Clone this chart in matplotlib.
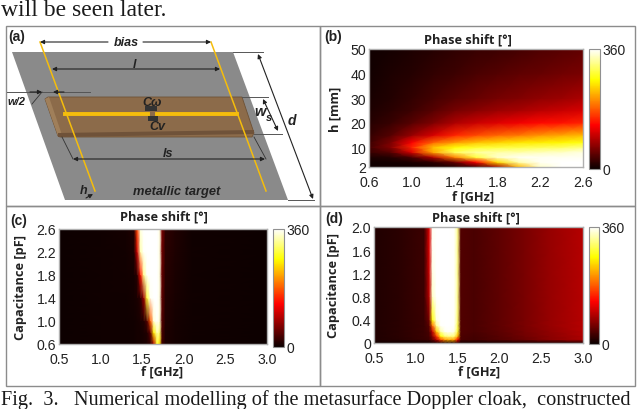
import numpy as np
import matplotlib
matplotlib.use("Agg")
import matplotlib.pyplot as plt
from matplotlib.patches import Polygon, Rectangle

plt.rcParams["font.family"] = ["Liberation Sans", "DejaVu Sans"]

W, H = 640, 410

# panel (b): phase shift vs frequency and height
b_f = [0.6, 0.8, 1.0, 1.2, 1.4, 1.6, 1.8, 2.0, 2.2, 2.4, 2.6]
b_h = [2, 4, 6, 8, 10, 12, 15, 20, 25, 30, 40, 50]
b_phase = [
    [3, 3, 4, 6, 10, 25, 80, 230, 340, 358, 360],
    [5, 6, 10, 20, 50, 130, 250, 330, 355, 360, 360],
    [10, 15, 35, 90, 200, 290, 340, 355, 355, 355, 355],
    [25, 40, 110, 220, 300, 325, 330, 330, 335, 340, 350],
    [30, 65, 150, 235, 270, 285, 290, 295, 300, 305, 315],
    [28, 60, 130, 185, 215, 235, 245, 255, 260, 265, 275],
    [22, 40, 75, 110, 150, 170, 185, 195, 210, 220, 230],
    [15, 25, 42, 62, 88, 103, 115, 125, 135, 140, 150],
    [10, 18, 28, 42, 58, 68, 78, 85, 95, 102, 110],
    [8, 14, 22, 32, 42, 50, 58, 64, 72, 78, 86],
    [5, 10, 15, 22, 28, 34, 40, 45, 50, 55, 60],
    [3, 7, 11, 15, 20, 24, 28, 32, 37, 42, 47],
]

# panel (c): phase shift vs frequency and capacitance
c_f = [0.5, 1.0, 1.3, 1.40, 1.44, 1.48, 1.52, 1.56, 1.60, 1.64, 1.68, 1.71, 1.74, 1.78, 1.9, 2.1, 3.0]
c_cap = [0.6, 0.8, 1.0, 1.4, 1.8, 2.2, 2.6]
c_phase = [
    [2, 3, 4, 5, 6, 7, 8, 10, 20, 90, 280, 250, 30, 10, 6, 4, 2],
    [2, 3, 4, 5, 6, 7, 9, 14, 50, 260, 330, 310, 35, 11, 6, 4, 2],
    [2, 3, 4, 5, 7, 9, 14, 40, 180, 345, 358, 345, 40, 12, 7, 4, 2],
    [2, 3, 4, 6, 9, 18, 80, 290, 355, 360, 360, 350, 45, 14, 8, 4, 2],
    [2, 3, 5, 7, 18, 140, 320, 358, 360, 360, 360, 350, 50, 16, 9, 4, 2],
    [2, 3, 5, 9, 100, 330, 358, 360, 360, 360, 360, 350, 55, 18, 10, 4, 2],
    [2, 3, 6, 12, 170, 350, 360, 360, 360, 360, 360, 350, 60, 20, 12, 4, 2],
]

# panel (d): phase shift vs frequency and capacitance
d_f = [0.5, 0.8, 1.1, 1.16, 1.2, 1.25, 1.3, 1.35, 1.4, 1.46, 1.5, 1.54, 1.7, 2.0, 2.3, 2.6, 3.0]
d_cap = [0, 0.06, 0.12, 0.2, 0.3, 0.4, 0.8, 1.2, 1.6, 2.0]
d_phase = [
    [3, 3, 4, 4, 4, 5, 6, 8, 8, 8, 6, 5, 5, 6, 8, 8, 10],
    [12, 16, 24, 28, 45, 90, 170, 215, 225, 215, 140, 34, 30, 40, 52, 68, 85],
    [12, 17, 26, 32, 70, 160, 270, 310, 320, 310, 230, 36, 32, 42, 55, 70, 88],
    [12, 18, 26, 35, 100, 240, 330, 355, 358, 350, 290, 38, 34, 44, 58, 72, 90],
    [12, 18, 26, 42, 190, 320, 358, 360, 360, 358, 300, 38, 34, 45, 60, 75, 92],
    [12, 18, 26, 55, 270, 350, 360, 360, 360, 358, 310, 38, 34, 45, 60, 75, 92],
    [12, 18, 28, 90, 340, 360, 360, 360, 360, 358, 320, 38, 34, 45, 60, 75, 92],
    [12, 18, 28, 100, 350, 360, 360, 360, 360, 358, 320, 38, 34, 45, 60, 75, 92],
    [12, 18, 28, 110, 355, 360, 360, 360, 360, 358, 320, 38, 34, 45, 60, 75, 92],
    [12, 18, 28, 110, 355, 360, 360, 360, 360, 358, 320, 38, 34, 45, 60, 75, 92],
]

b_xticks = [0.6, 1.0, 1.4, 1.8, 2.2, 2.6]
b_yticks = [2, 10, 20, 30, 40, 50]
c_xticks = [0.5, 1.0, 1.5, 2.0, 2.5, 3.0]
c_yticks = [0.6, 1.0, 1.4, 1.8, 2.2, 2.6]
d_xticks = [0.5, 1.0, 1.5, 2.0, 2.5, 3.0]
d_yticks = [0, 0.4, 0.8, 1.2, 1.6, 2.0]


def px_axes(fig, x0, y0, x1, y1):
    return fig.add_axes([x0 / W, 1 - y1 / H, (x1 - x0) / W, (y1 - y0) / H])


def heatmap(fig, box, cbox, f, y, z, xt, yt, xfmt, yfmt, ylabel, title_x, title_y, xl_x, xl_y, yl_x):
    ax = px_axes(fig, *box)
    mesh = ax.pcolormesh(f, y, np.array(z, dtype=float), cmap="hot", vmin=0, vmax=360, shading="gouraud")
    ax.set_xticks(xt, [xfmt.format(v) for v in xt])
    ax.set_yticks(yt, [("0" if v == 0 else yfmt.format(v)) for v in yt])
    ax.tick_params(axis="x", length=0, labelsize=10.2, pad=6, colors="#222222")
    ax.tick_params(axis="y", length=0, labelsize=10.2, pad=2, colors="#222222")
    for s in ax.spines.values():
        s.set_color("#b0b0b0")
        s.set_linewidth(1)
    cax = px_axes(fig, *cbox)
    cb = fig.colorbar(mesh, cax=cax)
    cb.set_ticks([0, 360], labels=["0", "360"])
    cb.ax.tick_params(length=0, labelsize=10, pad=2, colors="#222222")
    cb.outline.set_edgecolor("#909090")
    bold = dict(family=["Open Sans", "DejaVu Sans"], fontweight="bold", color="#222222", fontsize=9.2)
    base.text(title_x, title_y, "Phase shift [°]", ha="center", va="center", **bold)
    base.text(xl_x, xl_y, "f [GHz]", ha="center", va="center", **bold)
    base.text(yl_x, (box[1] + box[3]) / 2, ylabel, ha="center", va="center", rotation=90, **bold)
    return ax


fig = plt.figure(figsize=(W / 100, H / 100), dpi=100)
base = fig.add_axes([0, 0, 1, 1])
base.set_xlim(0, W)
base.set_ylim(H, 0)
base.axis("off")

# page text above and below the figure
serif = dict(family=["Liberation Serif"], color="#1a1a1a")
base.text(1, 16, "will be seen later.", fontsize=17, **serif)
base.text(1, 405, "Fig.  3.   Numerical modelling of the metasurface Doppler cloak,  constructed", fontsize=14.6, **serif)

# panel frames
for x0, y0, x1, y1 in [(6, 27, 320, 207), (320, 27, 635, 207), (6, 207, 320, 387), (320, 207, 635, 387)]:
    base.add_patch(Rectangle((x0, y0), x1 - x0, y1 - y0, fill=False, ec="#8c8c8c", lw=1))

# schematic (a), drawn in pixel coordinates
base.add_patch(Polygon([(12, 53), (233, 53), (288, 201), (65, 201)], fc="#8a8a8a", ec="none"))
base.add_patch(Polygon([(45, 100), (48, 98), (242, 98), (254, 134), (252, 138), (60, 138), (58, 137)], fc="#8c6b4a", ec="#6d5136", lw=0.6))
base.add_patch(Polygon([(45, 100), (49, 98), (62, 136), (58, 137)], fc="#a07f5a", ec="none"))
base.add_patch(Polygon([(58, 134), (254, 131), (254, 135), (58, 138)], fc="#6f5239", ec="none"))
yellow = "#f5bd0c"
base.plot([40, 95], [43, 192], color=yellow, lw=1.1)
base.plot([211, 266], [43, 192], color=yellow, lw=1.1)
base.plot([65, 148], [115, 115], color=yellow, lw=2.8)
base.plot([157, 237], [115, 115], color=yellow, lw=2.8)
base.add_patch(Rectangle((145, 107), 12, 5, fc="#333333", ec="none"))
base.add_patch(Rectangle((148, 117), 10, 5, fc="#333333", ec="none"))
arrows = [
    ((40, 43), (108, 43), "<|-"), ((211, 43), (143, 43), "<|-"), ((52, 70), (220, 70), "<|-|>"),
    ((73, 160), (265, 160), "<|-|>"), ((258, 55), (313, 200), "<|-|>"), ((263, 100), (278, 132), "<|-|>"),
    ((30, 93), (42, 93), "-|>"), ((64, 93), (53, 93), "-|>"), ((86, 199), (93, 195), "-|>"),
]
for p, q, style in arrows:
    base.annotate("", xy=q, xytext=p, arrowprops=dict(arrowstyle=style, color="#222222", lw=0.8, mutation_scale=6, shrinkA=0, shrinkB=0))
for x0, y0, x1, y1 in [(233, 53, 263, 53), (242, 98, 268, 98), (254, 135, 282, 135), (288, 201, 314, 201), (7, 93, 90, 93)]:
    base.plot([x0, x1], [y0, y1], color="#555555", lw=0.7)
base.plot([32, 42], [105, 93], color="#333333", lw=0.6)
base.plot([62, 73], [138, 160], color="#333333", lw=0.6)
base.plot([254, 266], [138, 160], color="#333333", lw=0.6)
lab = dict(style="italic", fontweight="bold", color="#222222", ha="center", va="center")
base.text(126, 43, "bias", fontsize=9, **lab)
base.text(135, 65, "l", fontsize=9, **lab)
base.text(16, 102, "w/2", fontsize=8, **lab)
base.text(152, 103, "Cω", fontsize=9, **lab)
base.text(157, 127, "Cv", fontsize=9, **lab)
base.text(260, 112, "w", fontsize=10.5, **lab)
base.text(269, 118, "s", fontsize=8, **lab)
base.text(292, 121, "d", fontsize=10, **lab)
base.text(168, 154, "ls", fontsize=9, **lab)
base.text(84, 191, "h", fontsize=9, **lab)
base.text(177, 192, "metallic target", fontsize=9.3, **lab)
tag = dict(fontsize=10, fontweight="bold", color="#222222", ha="center", va="center")
base.text(17, 37, "(a)", **tag)
base.text(333, 37, "(b)", **tag)
base.text(19, 221, "(c)", **tag)
base.text(334, 219, "(d)", **tag)

heatmap(fig, (369, 50, 583, 168), (589, 50, 600, 170), b_f, b_h, b_phase, b_xticks, b_yticks,
        "{:.1f}", "{:d}", "h [mm]", 468, 40, 473, 197, 335)
heatmap(fig, (59, 230, 267, 345), (273, 230, 284, 348), c_f, c_cap, c_phase, c_xticks, c_yticks,
        "{:.1f}", "{:.1f}", "Capacitance [pF]", 164, 217, 162, 372, 21)
heatmap(fig, (374, 228, 583, 344), (589, 228, 599, 345), d_f, d_cap, d_phase, d_xticks, d_yticks,
        "{:.1f}", "{:.1f}", "Capacitance [pF]", 476, 218, 479, 372, 334)

fig.savefig("out.png", dpi=100)
